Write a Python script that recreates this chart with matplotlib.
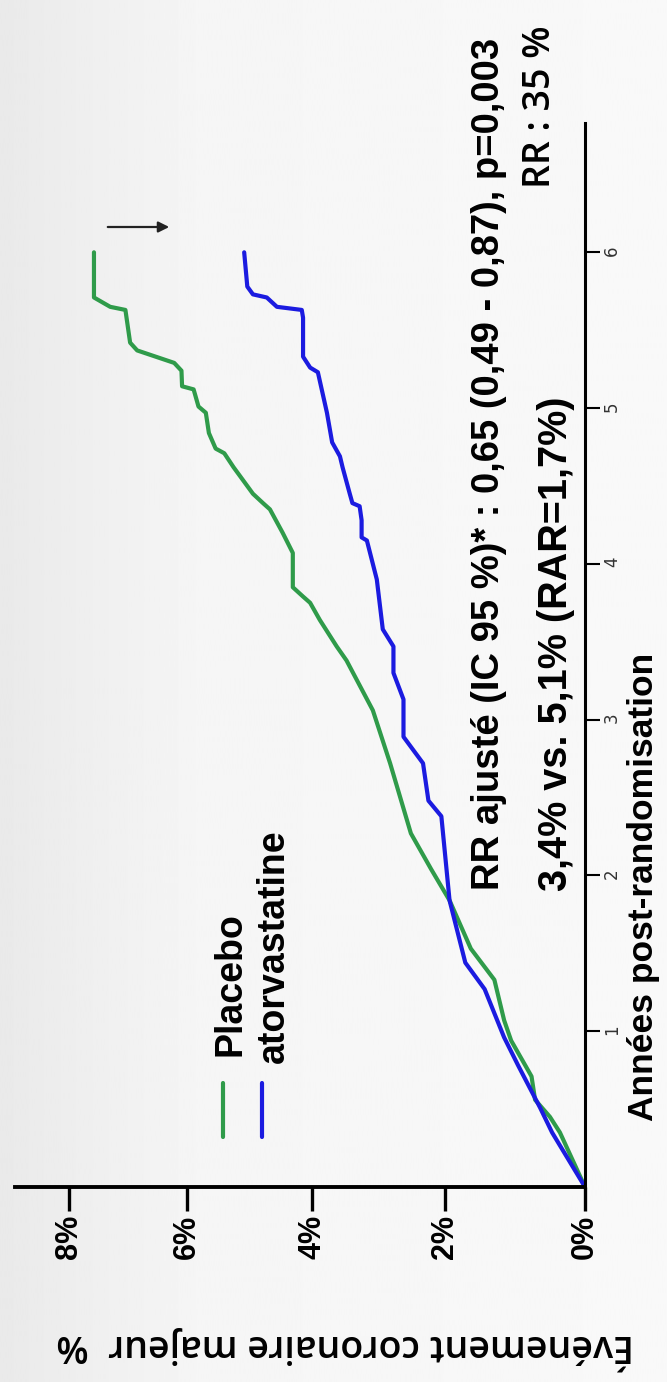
import numpy as np
import matplotlib
matplotlib.use("Agg")
import matplotlib.pyplot as plt
from matplotlib.ticker import PercentFormatter

# Kaplan-Meier style cumulative event curves (years, % with event)
placebo_years = [0.00, 0.35, 0.45, 0.56, 0.71, 0.75, 0.94, 1.07, 1.33, 1.53, 1.84, 2.04,
                 2.27, 2.72, 3.06, 3.38, 3.47, 3.64, 3.75, 3.79, 3.85, 4.07, 4.20, 4.35,
                 4.39, 4.45, 4.56, 4.62, 4.71, 4.74, 4.84, 4.97, 5.01, 5.12, 5.14, 5.24,
                 5.29, 5.37, 5.42, 5.63, 5.65, 5.71, 6.00]
placebo_pct = [0.00, 0.35, 0.49, 0.70, 0.75, 0.80, 1.04, 1.14, 1.28, 1.62, 1.93, 2.20,
               2.50, 2.81, 3.07, 3.47, 3.62, 3.88, 4.03, 4.14, 4.30, 4.30, 4.46, 4.66,
               4.77, 4.93, 5.13, 5.24, 5.39, 5.53, 5.64, 5.69, 5.81, 5.89, 6.08, 6.09,
               6.21, 6.83, 6.95, 7.03, 7.29, 7.57, 7.57]

atorva_years = [0.00, 0.35, 0.51, 0.78, 0.96, 1.27, 1.44, 1.84, 2.38, 2.48, 2.72, 2.89,
                3.13, 3.30, 3.47, 3.58, 3.90, 4.15, 4.17, 4.28, 4.37, 4.39, 4.45, 4.62,
                4.69, 4.78, 4.97, 5.23, 5.26, 5.33, 5.58, 5.63, 5.65, 5.71, 5.73, 5.78,
                6.00]
atorva_pct = [0.00, 0.46, 0.63, 0.94, 1.14, 1.42, 1.70, 1.93, 2.05, 2.24, 2.32, 2.61,
              2.61, 2.76, 2.76, 2.92, 3.01, 3.16, 3.24, 3.24, 3.27, 3.38, 3.42, 3.53,
              3.57, 3.69, 3.77, 3.91, 4.03, 4.14, 4.14, 4.16, 4.55, 4.71, 4.93, 5.02,
              5.07]

pct_ticks = [0, 2, 4, 6, 8]
year_ticks = [1, 2, 3, 4, 5, 6]
series_labels = ["Placebo", "atorvastatine"]

GREEN = "#2f9b4a"
BLUE = "#1b1be0"
FONT = "Liberation Sans"

# the source figure is slightly warped: tick spacing shrinks towards 8%,
# a mild quadratic scale reproduces it
K = 0.0131


def fwd(p):
    p = np.asarray(p, dtype=float)
    return p - K * p ** 2


def inv(u):
    u = np.asarray(u, dtype=float)
    return (1 - np.sqrt(np.clip(1 - 4 * K * u, 0, None))) / (2 * K)


W, H = 667, 1382
fig = plt.figure(figsize=(W / 100, H / 100), dpi=100)


def fx(px):
    return px / W


def fy(py):
    return 1 - py / H


# light grey background, a bit darker at the left edge
bg = fig.add_axes([0, 0, 1, 1], zorder=0)
xs = np.linspace(0, 1, 400)
grad = np.interp(xs, [0, 0.12, 0.3, 1.0], [0.915, 0.935, 0.962, 0.975])
bg.imshow(grad[None, :], aspect="auto", cmap="gray", vmin=0, vmax=1, extent=[0, 1, 0, 1])
bg.axis("off")

ax = fig.add_axes([fx(15), fy(1187), (585 - 15) / W, (1187 - 123) / H], zorder=1)
ax.patch.set_alpha(0)

ax.plot(placebo_pct, placebo_years, color=GREEN, lw=3, solid_joinstyle="round", solid_capstyle="round")
ax.plot(atorva_pct, atorva_years, color=BLUE, lw=3, solid_joinstyle="round", solid_capstyle="round")

ax.set_xscale("function", functions=(fwd, inv))
ax.set_xlim(8.97, 0)
ax.set_ylim(0, 6.83)

ax.spines["left"].set_visible(False)
ax.spines["top"].set_visible(False)
ax.spines["bottom"].set_linewidth(2.8)
ax.spines["right"].set_linewidth(2.2)

ax.set_xticks(pct_ticks)
ax.xaxis.set_major_formatter(PercentFormatter(decimals=0))
ax.tick_params(axis="x", direction="out", length=17, width=2.4, pad=3,
               labelsize=22, labelrotation=90)
for lbl in ax.get_xticklabels():
    lbl.set_fontfamily(FONT)
    lbl.set_fontweight("bold")

ax.yaxis.tick_right()
ax.set_yticks(year_ticks)
ax.tick_params(axis="y", direction="out", length=11, width=1.5, pad=2,
               labelsize=12, labelrotation=90, labelcolor="#333333")
ax.minorticks_off()

# legend: short vertical lines + rotated labels
for lx, tx, ty, col, lab in [(223, 230, 1056, GREEN, series_labels[0]),
                             (262, 274, 1063, BLUE, series_labels[1])]:
    fig.add_artist(plt.Line2D([fx(lx), fx(lx)], [fy(1137), fy(1083)], color=col, lw=3,
                              solid_capstyle="round"))
    fig.text(fx(tx), fy(ty), lab, rotation=90, ha="center", va="bottom",
             fontsize=27, fontweight="bold", family=FONT)

bold = dict(rotation=90, ha="center", va="center", fontweight="bold", family=FONT)
fig.text(fx(489), fy(464), "RR ajusté (IC 95 %)* : 0,65 (0,49 - 0,87), p=0,003",
         fontsize=27.5, **bold)
fig.text(fx(556), fy(644), "3,4% vs. 5,1% (RAR=1,7%)", fontsize=28.5, **bold)
fig.text(fx(643), fy(887), "Années post-randomisation", fontsize=25.5, **bold)
fig.text(fx(540), fy(107), "RR : 35 %", rotation=90, ha="center", va="center",
         fontsize=27, family="Open Sans", fontweight="semibold")

fig.text(fx(345), fy(1348), "Événement coronaire majeur  %", rotation=180,
         ha="center", va="center", fontsize=27, family="Open Sans", fontweight="semibold")

ax.annotate("", xy=(fx(172), fy(227)), xycoords="figure fraction",
            xytext=(fx(105), fy(227)), textcoords="figure fraction",
            arrowprops=dict(arrowstyle="-|>", color="#222222", lw=1.6, mutation_scale=16))

fig.savefig("out.png", dpi=100)
